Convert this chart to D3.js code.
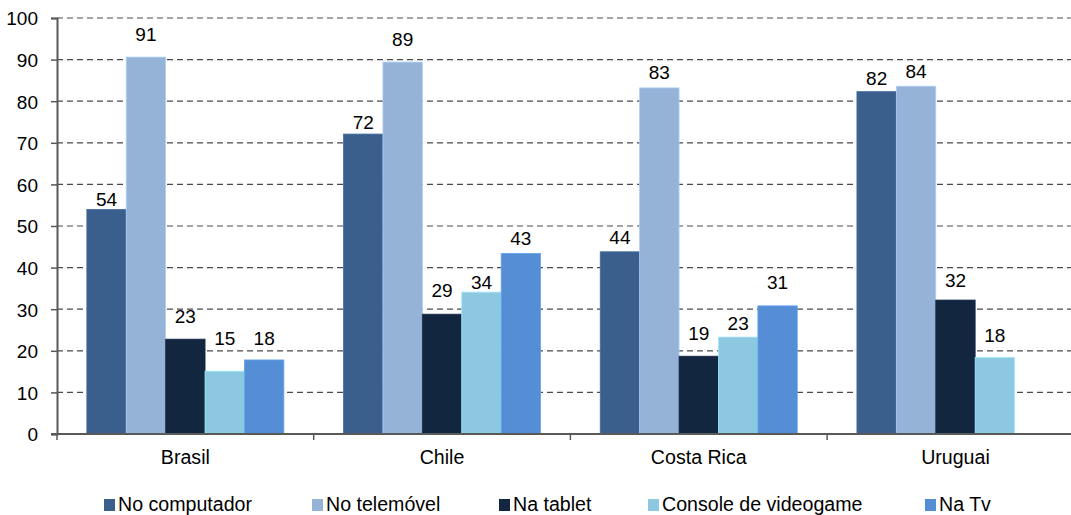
<!DOCTYPE html>
<html>
<head>
<meta charset="utf-8">
<script src="https://cdn.jsdelivr.net/npm/d3@7"></script>
<style>
  html, body { margin: 0; padding: 0; background: #fff; }
  svg { display: block; font-family: "Liberation Sans", Arial, sans-serif; }
</style>
</head>
<body>
<svg id="chart" width="1071" height="515"></svg>
<script>
// Countries along the x axis
const categories = ["Brasil", "Chile", "Costa Rica", "Uruguai"];
// Series names (legend order)
const seriesNames = ["No computador", "No telemóvel", "Na tablet", "Console de videogame", "Na Tv"];
// Percentages per series, one value per country (null = no bar)
const noComputador = [54.0, 72.1, 43.8, 82.3];
const noTelemovel  = [90.6, 89.4, 83.2, 83.6];
const naTablet     = [22.8, 28.8, 18.7, 32.2];
const consoleVideo = [15.1, 34.1, 23.3, 18.4];
const naTv         = [17.8, 43.4, 30.8, null];
const yTicks = [0, 10, 20, 30, 40, 50, 60, 70, 80, 90, 100];

const seriesValues = [noComputador, noTelemovel, naTablet, consoleVideo, naTv];
const colors = ["#3B5F8D", "#95B3D7", "#13263F", "#8CC9E1", "#558ED5"];

// Vertical clearance (px) between each bar top and its value label
const labelGap = [
  [3, 16, 16.5, 26, 15],
  [5, 16.5, 17, 3, 8],
  [8, 9, 16, 7, 17],
  [6.5, 8.7, 13.3, 15, 0]
];

const svg = d3.select("#chart");
const textSize = 19.6;   // category and legend text
const numSize = 19;      // tick and value numbers
const plotLeft = 57, plotBottom = 434, plotTop = 18;
const bandW = 256.7;

const x0 = d3.scaleBand().domain(categories)
  .range([plotLeft, plotLeft + bandW * categories.length])
  .paddingInner(0).paddingOuter(0);
const x1 = d3.scaleBand().domain(seriesNames)
  .range([0, x0.bandwidth()])
  .paddingInner(0).paddingOuter(0.757);
const y = d3.scaleLinear().domain([0, 100]).range([plotBottom, plotTop]);

// Dashed horizontal gridlines
svg.append("g")
  .selectAll("line")
  .data(yTicks.filter(t => t > 0))
  .join("line")
  .attr("x1", plotLeft).attr("x2", 1071)
  .attr("y1", d => y(d)).attr("y2", d => y(d))
  .attr("stroke", "#4a4a4a")
  .attr("stroke-width", 1.2)
  .attr("stroke-dasharray", "6,4");

// Bars
const rows = [];
categories.forEach((c, ci) => {
  seriesNames.forEach((s, si) => {
    const v = seriesValues[si][ci];
    if (v !== null) rows.push({ c, ci, s, si, v });
  });
});

svg.append("g")
  .selectAll("rect")
  .data(rows)
  .join("rect")
  .attr("x", d => x0(d.c) + x1(d.s))
  .attr("y", d => y(d.v))
  .attr("width", x1.bandwidth())
  .attr("height", d => y(0) - y(d.v))
  .attr("fill", d => colors[d.si])
  .attr("stroke", d => d3.color(colors[d.si]).brighter(0.4))
  .attr("stroke-width", 0.8);

// Value labels
svg.append("g")
  .selectAll("text")
  .data(rows)
  .join("text")
  .attr("x", d => x0(d.c) + x1(d.s) + x1.bandwidth() / 2)
  .attr("y", d => y(d.v) - labelGap[d.ci][d.si])
  .attr("text-anchor", "middle")
  .attr("font-size", numSize)
  .attr("fill", "#000")
  .text(d => d3.format(".0f")(d.v));

// Y axis
const yAxis = svg.append("g")
  .attr("transform", `translate(${plotLeft},0)`)
  .call(d3.axisLeft(y).tickValues(yTicks).tickSize(6).tickPadding(13).tickFormat(d3.format("d")));
yAxis.select(".domain").attr("stroke", "#595959").attr("stroke-width", 2);
yAxis.selectAll(".tick line").attr("stroke", "#595959").attr("stroke-width", 1.5);
yAxis.selectAll(".tick text")
  .attr("font-size", numSize).attr("font-family", "Liberation Sans, Arial, sans-serif")
  .attr("fill", "#000").attr("dy", "0.36em");

// X axis
const xAxis = svg.append("g")
  .attr("transform", `translate(0,${plotBottom})`)
  .call(d3.axisBottom(x0).tickSize(0).tickPadding(30).tickSizeOuter(0));
xAxis.select(".domain").attr("stroke", "#595959").attr("stroke-width", 2)
  .attr("d", `M${plotLeft - 6},0H1071`);
xAxis.selectAll(".tick text")
  .attr("font-size", textSize).attr("font-family", "Liberation Sans, Arial, sans-serif")
  .attr("fill", "#000").attr("dy", 0);
// Category boundary tick marks
xAxis.append("g")
  .selectAll("line")
  .data(categories)
  .join("line")
  .attr("x1", d => x0(d)).attr("x2", d => x0(d))
  .attr("y1", 0).attr("y2", 6)
  .attr("stroke", "#595959").attr("stroke-width", 1.5);

// Legend
const legendX = [104, 312, 499, 648, 925];
const legend = svg.append("g");
seriesNames.forEach((s, i) => {
  const g = legend.append("g").attr("transform", `translate(${legendX[i]},0)`);
  g.append("rect").attr("x", 0).attr("y", 499).attr("width", 11).attr("height", 12).attr("fill", colors[i]);
  g.append("text").attr("x", 14).attr("y", 511)
    .attr("font-size", textSize).attr("fill", "#000").text(s);
});
</script>
</body>
</html>
